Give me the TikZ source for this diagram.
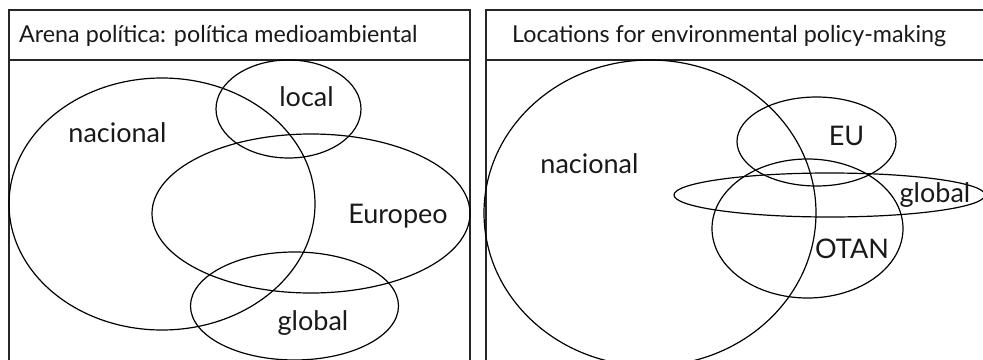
\documentclass[tikz,border=0pt]{standalone}
\usepackage{fontspec}
\setmainfont{Lato}
\begin{document}
\begin{tikzpicture}[x=1pt,y=-1pt,
  frame/.style={draw=black!85, line width=1.6pt},
  venn/.style={draw=black, line width=1.2pt},
  ttl/.style={font=\fontsize{23.3}{26}\selectfont, anchor=base west, inner sep=0pt, text=black!90},
  lbl/.style={font=\fontsize{27}{30}\selectfont, anchor=base, inner sep=0pt, text=black!90}]
\useasboundingbox (0,0) rectangle (983,359);
\clip (0,0) rectangle (983,359);
% left panel
\draw[frame] (9,380) -- (9,10) -- (470,10) -- (470,380);
\draw[frame] (9,60) -- (470,60);
\node[ttl] (t1) at (19,42) {Arena política: política medioambiental};
\draw[venn] (162,204) ellipse [x radius=153, y radius=126];
\draw[venn] (288.5,109) ellipse [x radius=72.5, y radius=49];
\draw[venn] (311,213.5) ellipse [x radius=159, y radius=79.5];
\draw[venn] (294.5,306) ellipse [x radius=104, y radius=54];
\node[lbl] (l1) at (306.5,106) {local};
\node[lbl] (n1) at (117.5,142) {nacional};
\node[lbl] (e1) at (398,223) {Europeo};
\node[lbl] (g1) at (313,330) {global};
% right panel
\draw[frame] (486,380) -- (486,10) -- (990,10);
\draw[frame] (486,60) -- (990,60);
\node[ttl] (t2) at (512,42) {Locations for environmental policy-making};
\draw[venn] (650,213) ellipse [x radius=166, y radius=153];
\draw[venn] (816.5,141.5) ellipse [x radius=79.5, y radius=44.5];
\draw[venn] (807.5,228.5) ellipse [x radius=95.5, y radius=69.5];
\draw[venn] (829.5,195) ellipse [x radius=155.5, y radius=22];
\node[lbl] (n2) at (589.5,173) {nacional};
\node[lbl] (eu) at (846.5,145) {EU};
\node[lbl] (g2) at (935,202) {global};
\node[lbl] (ot) at (852,258) {OTAN};
\end{tikzpicture}
\end{document}
